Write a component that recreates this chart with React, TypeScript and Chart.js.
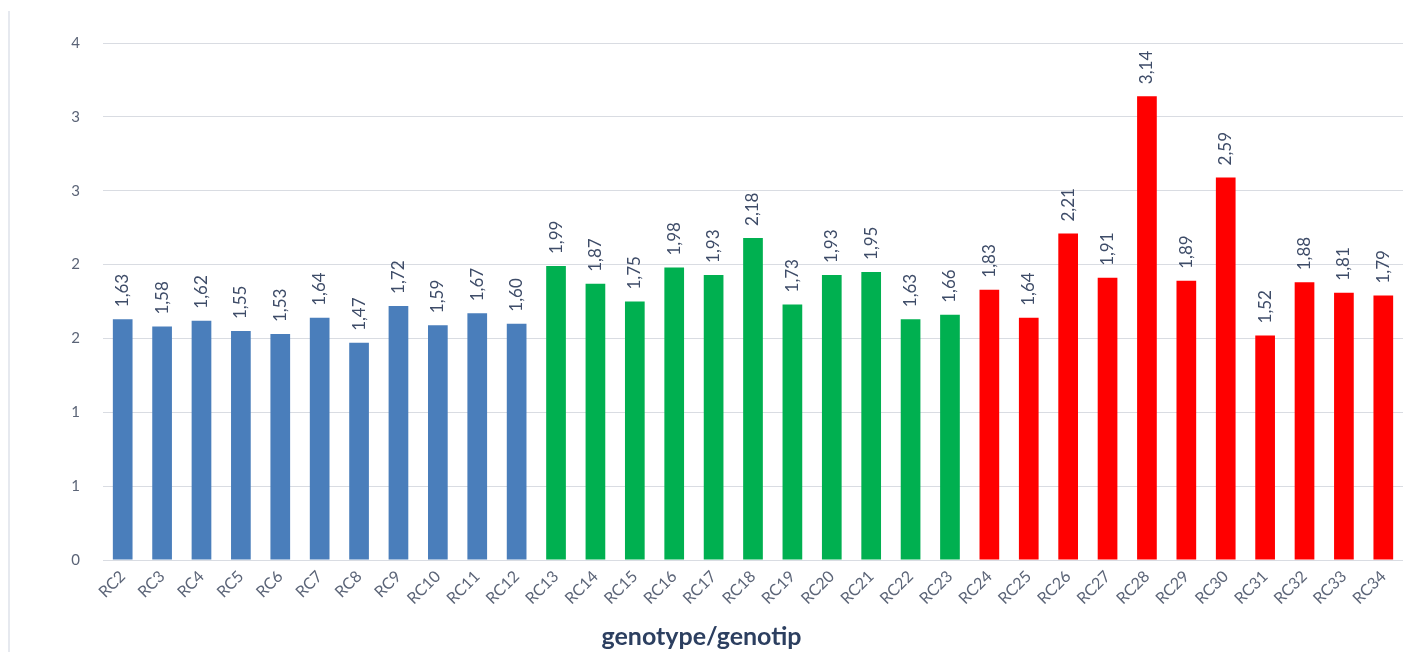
import React, { useEffect, useRef } from "react";
import { Chart, registerables } from "chart.js";

Chart.register(...registerables);

// Genotype groups and their measured values
const blueGenotypes = ["RC2", "RC3", "RC4", "RC5", "RC6", "RC7", "RC8", "RC9", "RC10", "RC11", "RC12"];
const blueValues = [1.63, 1.58, 1.62, 1.55, 1.53, 1.64, 1.47, 1.72, 1.59, 1.67, 1.6];

const greenGenotypes = ["RC13", "RC14", "RC15", "RC16", "RC17", "RC18", "RC19", "RC20", "RC21", "RC22", "RC23"];
const greenValues = [1.99, 1.87, 1.75, 1.98, 1.93, 2.18, 1.73, 1.93, 1.95, 1.63, 1.66];

const redGenotypes = ["RC24", "RC25", "RC26", "RC27", "RC28", "RC29", "RC30", "RC31", "RC32", "RC33", "RC34"];
const redValues = [1.83, 1.64, 2.21, 1.91, 3.14, 1.89, 2.59, 1.52, 1.88, 1.81, 1.79];

// Value axis labels (0 to 3.5 in steps of 0.5, shown without decimals)
const yTickLabels = ["0", "1", "1", "2", "2", "3", "3", "4"];
const axisTitle = "genotype/genotip";

const BLUE = "#4a7ebb";
const GREEN = "#00b050";
const RED = "#ff0000";
const TICK_COLOR = "#5b6477";
const LABEL_COLOR = "#3e4c68";
const TITLE_COLOR = "#2c3f60";
const GRID_COLOR = "#d9dce2";
const FONT = "Lato, 'Open Sans', sans-serif";

const labels = [...blueGenotypes, ...greenGenotypes, ...redGenotypes];
const values = [...blueValues, ...greenValues, ...redValues];
const colors = [
  ...blueGenotypes.map(() => BLUE),
  ...greenGenotypes.map(() => GREEN),
  ...redGenotypes.map(() => RED),
];

// Writes each bar's value vertically above it, with a comma decimal separator
const valueLabels = {
  id: "valueLabels",
  afterDatasetsDraw(chart: any) {
    const { ctx } = chart;
    const meta = chart.getDatasetMeta(0);
    const data = chart.data.datasets[0].data as number[];
    ctx.save();
    ctx.fillStyle = LABEL_COLOR;
    ctx.font = `17px ${FONT}`;
    ctx.textAlign = "left";
    ctx.textBaseline = "middle";
    meta.data.forEach((bar: any, i: number) => {
      const { x, y } = bar.getProps(["x", "y"], true);
      ctx.save();
      ctx.translate(x, y - 12);
      ctx.rotate(-Math.PI / 2);
      ctx.fillText(data[i].toFixed(2).replace(".", ","), 0, 0);
      ctx.restore();
    });
    ctx.restore();
  },
};

export default function App() {
  const canvasRef = useRef<HTMLCanvasElement | null>(null);

  useEffect(() => {
    if (!canvasRef.current) return;
    const chart = new Chart(canvasRef.current, {
      type: "bar",
      data: {
        labels,
        datasets: [
          {
            data: values,
            backgroundColor: colors,
            borderWidth: 0,
            barPercentage: 0.5,
            categoryPercentage: 1,
          },
        ],
      },
      options: {
        animation: false,
        responsive: true,
        maintainAspectRatio: false,
        layout: { padding: { left: 0, right: 2, top: 43, bottom: 0 } },
        plugins: {
          legend: { display: false },
          tooltip: { enabled: false },
          title: {
            display: true,
            position: "bottom",
            text: axisTitle,
            color: TITLE_COLOR,
            font: { family: FONT, size: 25, weight: "bold", lineHeight: 1.2 },
            padding: { top: 0, bottom: 0 },
          },
        },
        scales: {
          x: {
            grid: { display: false, drawTicks: false },
            border: { display: false },
            ticks: {
              color: TICK_COLOR,
              font: { family: FONT, size: 16 },
              minRotation: 45,
              maxRotation: 45,
              autoSkip: false,
              padding: 7,
            },
            afterFit: (scale: any) => {
              scale.height = 62;
            },
          },
          y: {
            min: 0,
            max: 3.5,
            grid: { color: GRID_COLOR, lineWidth: 1, drawTicks: false },
            border: { display: false },
            ticks: {
              stepSize: 0.5,
              color: TICK_COLOR,
              font: { family: FONT, size: 15 },
              padding: 23,
              callback: (_v: any, i: number) => yTickLabels[i],
            },
            afterFit: (scale: any) => {
              scale.width = 103;
            },
          },
        },
      },
      plugins: [valueLabels],
    });
    return () => chart.destroy();
  }, []);

  return (
    <div
      style={{
        position: "fixed",
        left: 0,
        top: 0,
        width: 1405,
        height: 652,
        background: "#ffffff",
        overflow: "hidden",
      }}
    >
      <div
        style={{
          position: "absolute",
          left: 8,
          top: 11,
          bottom: 0,
          width: 2,
          background: "#e6e9ef",
        }}
      />
      <canvas ref={canvasRef} />
    </div>
  );
}
